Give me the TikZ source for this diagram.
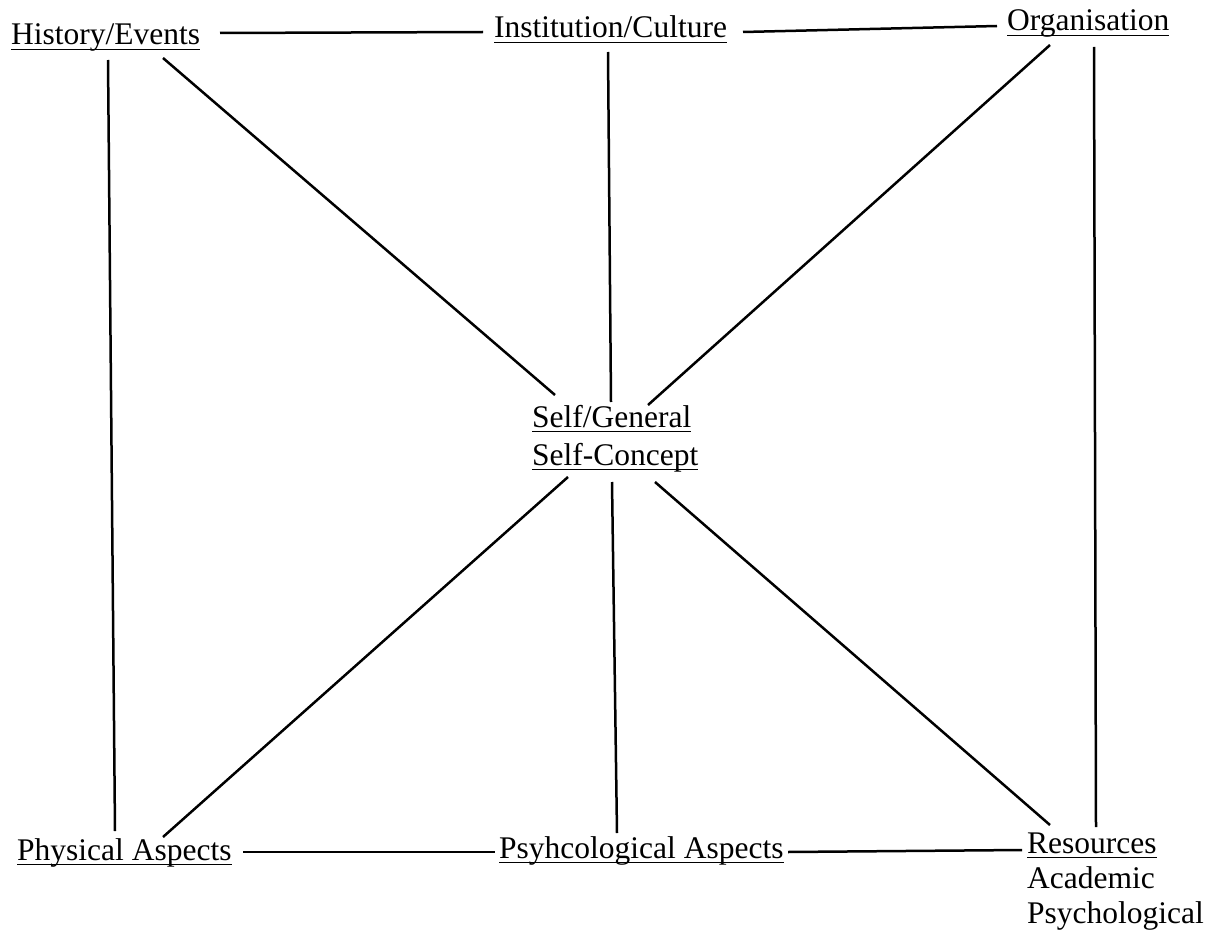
\documentclass[tikz,border=0pt]{standalone}
\usepackage{fontspec}
\setmainfont{Liberation Serif}
\newcommand\ulx[1]{\setbox0\hbox{#1}\rlap{\rule[-5.4pt]{\wd0}{1.5pt}}\box0}
\begin{document}
\begin{tikzpicture}[x=1pt,y=-1pt,
  lbl/.style={inner sep=0pt, font=\fontsize{31.5}{38}\selectfont, anchor=base west},
  link/.style={line width=2.5pt}]
\useasboundingbox (0,0) rectangle (1205,939);
\fill[white] (0,0) rectangle (1205,939);
% labels (multi-line nodes: base = baseline of last line)
\node[lbl] (hist) at (11,45) {\ulx{History/Events}};
\node[lbl] (inst) at (494,38) {\ulx{Institution/Culture}};
\node[lbl] (org) at (1007,31) {\ulx{Organisation}};
\node[lbl, align=left] (self) at (532,465) {\ulx{Self/General}\\\ulx{Self-Concept}};
\node[lbl] (phys) at (17,860) {\ulx{Physical Aspects}};
\node[lbl] (psyc) at (499,858) {\ulx{Psyhcological Aspects}};
\node[lbl, align=left, font=\fontsize{31.5}{35}\selectfont] (res) at (1027,923) {\ulx{Resources}\\Academic\\Psychological};
% horizontal connectors
\draw[link] ([shift={(209,-12)}]hist.base west) -- ([shift={(-11,-6)}]inst.base west);
\draw[link] ([shift={(249,-6)}]inst.base west) -- ([shift={(-10,-5)}]org.base west);
\draw[link] ([shift={(226,-8)}]phys.base west) -- ([shift={(-4,-6)}]psyc.base west);
\draw[link] ([shift={(289,-6)}]psyc.base west) -- ([shift={(-5,-73)}]res.base west);
% verticals
\draw[link] ([shift={(97,15)}]hist.base west) -- ([shift={(98,-29)}]phys.base west);
\draw[link] ([shift={(114,14)}]inst.base west) -- ([shift={(79,-63)}]self.base west);
\draw[link] ([shift={(87,16)}]org.base west) -- ([shift={(69,-96)}]res.base west);
\draw[link] ([shift={(80,17)}]self.base west) -- ([shift={(118,-25)}]psyc.base west);
% diagonals
\draw[link] ([shift={(152,13)}]hist.base west) -- ([shift={(23,-70)}]self.base west);
\draw[link] ([shift={(43,14)}]org.base west) -- ([shift={(116,-60)}]self.base west);
\draw[link] ([shift={(36,12)}]self.base west) -- ([shift={(146,-23)}]phys.base west);
\draw[link] ([shift={(123,17)}]self.base west) -- ([shift={(23,-98)}]res.base west);
\end{tikzpicture}
\end{document}
